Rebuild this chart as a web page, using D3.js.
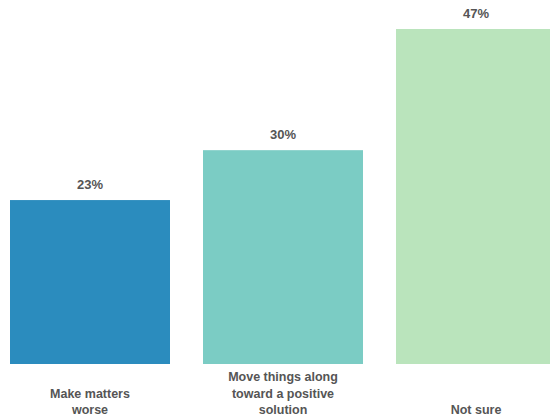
<!DOCTYPE html>
<html>
<head>
<meta charset="utf-8">
<script src="https://cdn.jsdelivr.net/npm/d3@7"></script>
<style>
  html, body { margin: 0; padding: 0; background: #fff; overflow: hidden; }
  svg { display: block; font-family: "Liberation Sans", Arial, sans-serif; }
</style>
</head>
<body>
<div id="chart"></div>
<script>
// data
var categories = ["Make matters worse", "Move things along toward a positive solution", "Not sure"];
var categoryLines = [
    ["Make matters", "worse"],
    ["Move things along", "toward a positive", "solution"],
    ["Not sure"]
];
var values = [23, 30, 47];
var colors = ["#2b8cbe", "#7bccc4", "#bae4bc"];

var width = 550, height = 417;

var svg = d3.select("#chart").append("svg")
    .attr("width", width)
    .attr("height", height);

var x = d3.scaleBand()
    .domain(categories)
    .range([10, 556])
    .paddingInner(0.171)
    .paddingOuter(0);

var y = d3.scaleLinear()
    .domain([0, 47])
    .range([364, 29]);

var color = d3.scaleOrdinal().domain(categories).range(colors);

var rows = categories.map(function(c, i){ return { cat: c, val: values[i], lines: categoryLines[i] }; });

// bars
svg.selectAll("rect.bar")
    .data(rows)
  .enter().append("rect")
    .attr("class", "bar")
    .attr("x", function(d){ return x(d.cat); })
    .attr("y", function(d){ return y(d.val); })
    .attr("width", x.bandwidth())
    .attr("height", function(d){ return y(0) - y(d.val); })
    .attr("fill", function(d){ return color(d.cat); });

// value labels
svg.selectAll("text.val")
    .data(rows)
  .enter().append("text")
    .attr("class", "val")
    .attr("x", function(d){ return x(d.cat) + x.bandwidth() / 2; })
    .attr("y", function(d){ return y(d.val) - 11; })
    .attr("text-anchor", "middle")
    .attr("font-size", "13px")
    .attr("font-weight", "bold")
    .attr("fill", "#555");

svg.selectAll("text.val").text(function(d){ return d.val + "%"; });

// category labels, bottom aligned
var lineH = 16.5, lastBaseline = 414;
var lab = svg.selectAll("text.cat")
    .data(rows)
  .enter().append("text")
    .attr("class", "cat")
    .attr("text-anchor", "middle")
    .attr("font-size", "12.5px")
    .attr("font-weight", "bold")
    .attr("fill", "#555");

lab.each(function(d){
    var t = d3.select(this);
    var n = d.lines.length;
    d.lines.forEach(function(line, j){
        t.append("tspan")
            .attr("x", x(d.cat) + x.bandwidth() / 2)
            .attr("y", lastBaseline - (n - 1 - j) * lineH)
            .text(line);
    });
});
</script>
</body>
</html>
